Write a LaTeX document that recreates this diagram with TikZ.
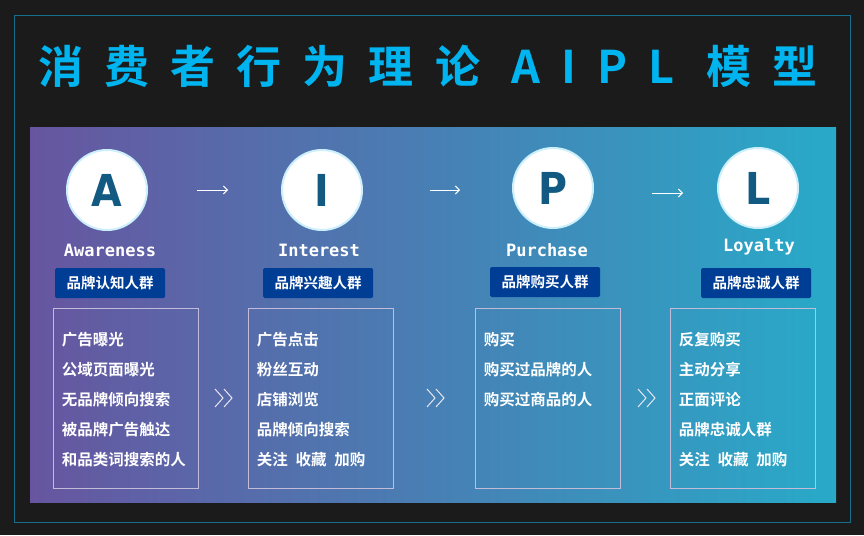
\documentclass[tikz,border=0pt]{standalone}
\usepackage{fontspec}
\setmainfont{Noto Sans CJK SC}[BoldFont={* Bold}]
\newfontfamily\titlefont{Noto Sans CJK SC Bold}[LetterSpace=47]
\newfontfamily\cjkb{Noto Sans CJK SC Bold}
\newfontfamily\letfont{DejaVu Sans Condensed Bold}
\newfontfamily\monob{DejaVu Sans Mono Bold}
\usetikzlibrary{calc,arrows.meta}
\definecolor{bgdark}{RGB}{27,27,27}
\definecolor{framec}{RGB}{20,110,140}
\definecolor{titlec}{RGB}{0,180,240}
\definecolor{purp}{RGB}{103,85,160}
\definecolor{tealc}{RGB}{40,170,200}
\definecolor{tagc}{RGB}{0,62,150}
\definecolor{letc}{RGB}{18,90,130}
\tikzset{
  circ/.style={circle,fill=white,minimum size=80pt,inner sep=0pt,draw=white!80!cyan,line width=2pt,text=letc,font=\letfont\fontsize{44}{44}\selectfont},
  lab/.style={text=white,font=\monob\fontsize{17}{17}\selectfont},
  tag/.style={fill=tagc,rounded corners=1.5pt,text=white,minimum width=110pt,minimum height=30pt,inner sep=0pt,font=\cjkb\fontsize{14.5}{14.5}\selectfont},
  boxx/.style={draw=white!60!purp,line width=0.8pt,minimum width=145pt,minimum height=180pt,inner sep=0pt},
  item/.style={anchor=west,text=white,font=\cjkb\fontsize{15.5}{15.5}\selectfont,inner sep=0pt},
  arr/.style={white,line width=1pt,-{Straight Barb[length=4pt]}},
  chev/.style={white!85!purp,line width=1pt}
}
\begin{document}
\begin{tikzpicture}[x=1pt,y=-1pt]
\fill[bgdark] (0,0) rectangle (864,535);
\useasboundingbox (0,0) rectangle (864,535);
\draw[framec,line width=1pt] (14,16) rectangle (850,522);
\node[anchor=west,text=titlec,font=\titlefont\fontsize{45}{45}\selectfont,inner sep=0pt] (title) at (38,66) {消费者行为理论 AIPL 模型};
\shade[left color=purp,right color=tealc] (30,127) rectangle (836,502);
\node[circ] (A) at (107,190) {A};
\node[circ] (I) at (322,190) {I};
\node[circ] (P) at (553,188) {P};
\node[circ] (L) at (758,188) {L};
\coordinate (a1s) at (197,190); \coordinate (a1e) at (228,190);
\coordinate (a2s) at (430,190); \coordinate (a2e) at (460,190);
\coordinate (a3s) at (652,193); \coordinate (a3e) at (683,193);
\draw[arr] (a1s) -- (a1e);
\draw[arr] (a2s) -- (a2e);
\draw[arr] (a3s) -- (a3e);
\node[lab] (la) at (110,250) {Awareness};
\node[lab] (li) at (319,250) {Interest};
\node[lab] (lp) at (547,250) {Purchase};
\node[lab] (ll) at (759,247) {Loyalty};
\node[tag] (ta) at (110,283) {品牌认知人群};
\node[tag] (ti) at (318,283) {品牌兴趣人群};
\node[tag] (tp) at (545,282) {品牌购买人群};
\node[tag] (tl) at (756,283) {品牌忠诚人群};
\node[boxx] (ba) at (125.5,398) {};
\node[boxx] (bi) at (320.5,398) {};
\node[boxx] (bp) at (547.5,398) {};
\node[boxx] (bl) at (742.5,398) {};
\foreach \b/\lst in {ba/{广告曝光,公域页面曝光,无品牌倾向搜索,被品牌广告触达,和品类词搜索的人},
                     bi/{广告点击,粉丝互动,店铺浏览,品牌倾向搜索,关注\hspace{0.5em}收藏\hspace{0.5em}加购},
                     bp/{购买,购买过品牌的人,购买过商品的人},
                     bl/{反复购买,主动分享,正面评论,品牌忠诚人群,关注\hspace{0.5em}收藏\hspace{0.5em}加购}}{
  \foreach \t [count=\i] in \lst {
    \node[item] at ($(\b.north west)+(9,32+30*\i-30)$) {\t};
  }
}
\foreach \n/\x in {c1/215,c2/427,c3/638}{
  \coordinate (\n) at (\x,398);
  \draw[chev] ($(\n)+(0,-9)$) -- ($(\n)+(8,0)$) -- ($(\n)+(0,9)$);
  \draw[chev] ($(\n)+(9,-9)$) -- ($(\n)+(17,0)$) -- ($(\n)+(9,9)$);
}
\end{tikzpicture}
\end{document}
